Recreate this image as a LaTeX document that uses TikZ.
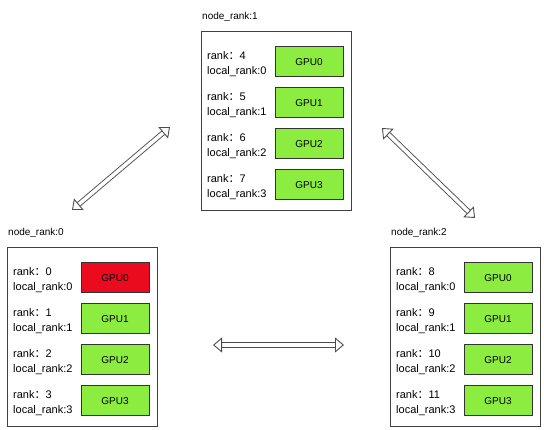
\documentclass[tikz,border=0pt]{standalone}
\usepackage{fontspec}
\setmainfont{Liberation Sans}
\newfontfamily\cjk{Noto Sans CJK SC}
\usetikzlibrary{arrows.meta}

\definecolor{gpugreen}{RGB}{140,236,64}
\definecolor{gpured}{RGB}{236,10,30}

\tikzset{
  machine/.style={draw=black!75, line width=0.9pt, minimum width=150pt, minimum height=179pt, anchor=north west, inner sep=0pt},
  gpu/.style={draw=black!80, line width=1pt, fill=gpugreen, minimum width=68pt, minimum height=30pt, inner sep=0pt, font=\fontsize{10}{12}\selectfont},
  rankinfo/.style={anchor=west, align=left, inner sep=0pt, font=\fontsize{11}{14.5}\selectfont},
  title/.style={anchor=south west, inner sep=0pt, font=\fontsize{10}{12}\selectfont},
  link/.style={draw=black!70, line width=0.9pt, double=white, double distance=3.5pt,
    {Triangle[open, length=9pt, width=15pt]}-{Triangle[open, length=9pt, width=15pt]}},
  n0g0/.style={fill=gpured}
}

\begin{document}
\begin{tikzpicture}[x=1pt, y=-1pt]
  \useasboundingbox (0,0) rectangle (544,430);
  % the three machines
  \node[machine] (n1) at (201,31) {};
  \node[machine] (n0) at (7,247) {};
  \node[machine] (n2) at (390,247) {};
  \node[title] (t1) at (202,22) {node\_rank:1};
  \node[title] (t0) at (8,238) {node\_rank:0};
  \node[title] (t2) at (391,238) {node\_rank:2};
  % four GPUs per machine
  \foreach \m/\first in {n0/0, n1/4, n2/8} {
    \foreach \i in {0,...,3} {
      \pgfmathtruncatemacro\r{\first+\i}
      \node[gpu, \m g\i/.try] (\m g\i) at ([shift={(108,{31+41*\i})}]\m.north west) {GPU\i};
      \node[rankinfo] (\m r\i) at ([shift={(6,{33+41*\i})}]\m.north west) {rank{\cjk ：}\r\\local\_rank:\i};
    }
  }
  % links between machines
  \coordinate (a0) at (72,210);
  \coordinate (a1) at (170,127);
  \coordinate (b1) at (382,128);
  \coordinate (b2) at (475,218);
  \coordinate (c0) at (213,345);
  \coordinate (c2) at (344,345);
  \draw[link] (a0) -- (a1);
  \draw[link] (b1) -- (b2);
  \draw[link] (c0) -- (c2);
\end{tikzpicture}
\end{document}
